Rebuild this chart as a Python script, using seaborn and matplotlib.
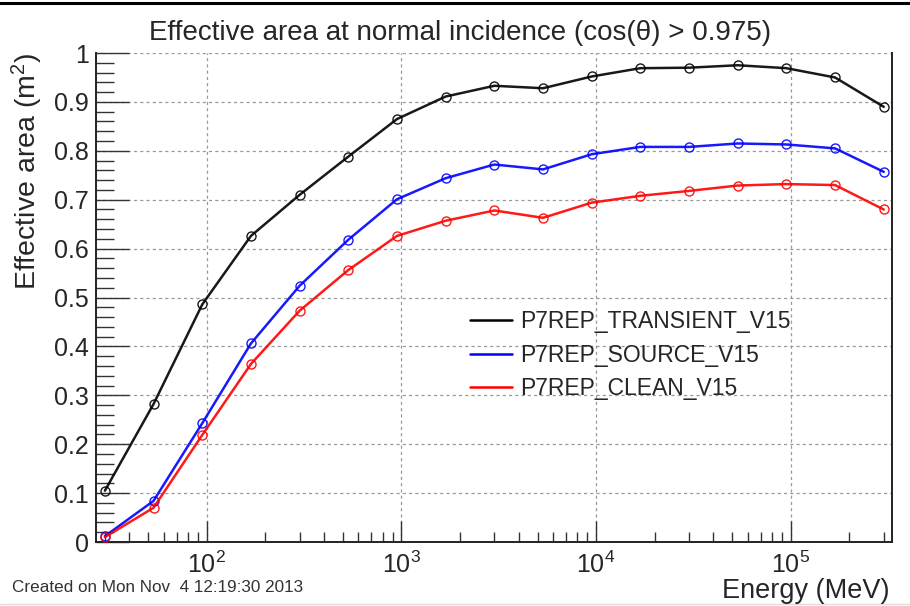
import numpy as np
import pandas as pd
import matplotlib
matplotlib.use("Agg")
import matplotlib.pyplot as plt
from matplotlib.ticker import LogLocator, MultipleLocator, FormatStrFormatter
from matplotlib.lines import Line2D
import seaborn as sns

# Energy bin centres (MeV) and effective areas (m^2) per event class
energy = [30, 53.3, 94.9, 168.7, 300, 533, 949, 1687, 3000, 5335,
          9487, 16870, 30000, 53350, 94870, 168700, 300000]
transient = [0.105, 0.282, 0.486, 0.626, 0.710, 0.788, 0.865, 0.911, 0.933,
             0.928, 0.952, 0.969, 0.970, 0.975, 0.969, 0.950, 0.890]
source = [0.012, 0.084, 0.243, 0.406, 0.524, 0.618, 0.701, 0.744, 0.772,
          0.762, 0.793, 0.808, 0.808, 0.815, 0.813, 0.805, 0.757]
clean = [0.010, 0.070, 0.219, 0.364, 0.473, 0.556, 0.626, 0.657, 0.678,
         0.663, 0.694, 0.708, 0.718, 0.729, 0.732, 0.730, 0.680]
class_names = ["P7REP_TRANSIENT_V15", "P7REP_SOURCE_V15", "P7REP_CLEAN_V15"]
class_colors = ["#000000", "#0000ff", "#ff0000"]

df = pd.concat([
    pd.DataFrame({"Energy": energy, "Aeff": vals, "cls": name})
    for name, vals in zip(class_names, [transient, source, clean])
])

sns.set_theme(style="white")
plt.rcParams["font.family"] = ["Liberation Sans", "DejaVu Sans"]
plt.rcParams["mathtext.fontset"] = "custom"
plt.rcParams["mathtext.rm"] = "Liberation Sans"
plt.rcParams["mathtext.it"] = "Liberation Sans:italic"
plt.rcParams["mathtext.default"] = "regular"

fig = plt.figure(figsize=(9.10, 6.06), dpi=100)
ax = fig.add_axes([0.1055, 0.1056, 0.8745, 0.8069])

palette = dict(zip(class_names, class_colors))
sns.lineplot(data=df, x="Energy", y="Aeff", hue="cls", palette=palette,
             hue_order=class_names, linewidth=1.8, marker="o",
             markersize=6.5, markerfacecolor="none", markeredgewidth=1.0,
             legend=False, ax=ax, zorder=3)
for line, c in zip(ax.get_lines(), class_colors):
    line.set_markeredgecolor(c)
    line.set_alpha(0.9)

ax.set_xscale("log")
ax.set_xlim(27, 330000)
ax.set_ylim(0, 1)

# axis ticks, drawn inside the frame on the left and bottom edges
ax.xaxis.set_major_locator(LogLocator(base=10, numticks=10))
ax.xaxis.set_minor_locator(LogLocator(base=10, subs=np.arange(2, 10), numticks=20))
ax.yaxis.set_major_locator(MultipleLocator(0.1))
ax.yaxis.set_minor_locator(MultipleLocator(0.02))
ax.yaxis.set_major_formatter(FormatStrFormatter("%g"))
ax.tick_params(axis="both", which="both", bottom=True, left=True,
               top=False, right=False, direction="in", color="#333333",
               width=1.0)
ax.tick_params(axis="both", which="major", labelsize=18)
ax.tick_params(axis="x", which="major", length=15, pad=7)
ax.tick_params(axis="x", which="minor", length=7)
ax.tick_params(axis="y", which="major", length=24, pad=5)
ax.tick_params(axis="y", which="minor", length=13)

ax.grid(True, which="major", linestyle=(0, (2.5, 2.5)), color="#999999",
        linewidth=0.9)
for s in ["left", "bottom", "right"]:
    ax.spines[s].set_color("#222222")
    ax.spines[s].set_linewidth(1.4)
ax.spines["top"].set_visible(False)

ax.set_xlabel("")
ax.set_ylabel("")
fig.text(0.978, 0.004, "Energy (MeV)", ha="right", va="bottom", fontsize=19.5)
fig.text(0.030, 0.913, "Effective area (m$^{2}$)", ha="center", va="top",
         rotation=90, fontsize=20.5)
fig.text(0.506, 0.946, "Effective area at normal incidence (cos(θ) > 0.975)",
         ha="center", va="center", fontsize=20)
fig.text(0.013, 0.018, "Created on Mon Nov  4 12:19:30 2013", ha="left",
         va="bottom", fontsize=12.3, color="#333333")

handles = [Line2D([], [], color=c, linewidth=1.8) for c in class_colors]
leg = ax.legend(handles, class_names, loc="upper left",
                bbox_to_anchor=(0.470, 0.474), frameon=False, fontsize=16.5,
                handlelength=1.85, handletextpad=0.35, labelspacing=0.45,
                borderaxespad=0, borderpad=0)

# page border lines
fig.add_artist(Line2D([0, 1], [0.995, 0.995], transform=fig.transFigure,
                      color="black", linewidth=2.2))
fig.add_artist(Line2D([0, 1], [0.003, 0.003], transform=fig.transFigure,
                      color="#dddddd", linewidth=1.0))

fig.savefig("out.png", dpi=100)
